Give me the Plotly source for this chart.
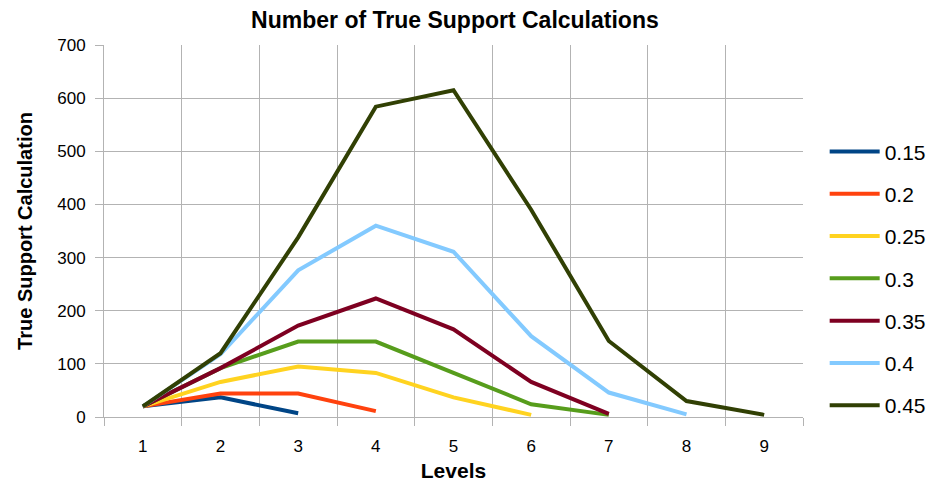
import plotly.graph_objects as go

# Levels on the x axis
levels = [1, 2, 3, 4, 5, 6, 7, 8, 9]

# Minimum-support thresholds (series names) and their counts per level
s015 = [20, 37, 7]
s020 = [20, 44, 44, 11]
s025 = [20, 66, 95, 83, 37, 4]
s030 = [20, 92, 142, 142, 83, 24, 4]
s035 = [20, 92, 172, 223, 165, 66, 6]
s040 = [20, 118, 276, 360, 311, 152, 46, 5]
s045 = [20, 120, 338, 584, 615, 390, 143, 30, 4]

series = [
    ("0.15", s015, "#004586"),
    ("0.2", s020, "#ff420e"),
    ("0.25", s025, "#ffd320"),
    ("0.3", s030, "#579d1c"),
    ("0.35", s035, "#7e0021"),
    ("0.4", s040, "#83caff"),
    ("0.45", s045, "#314004"),
]

y_ticks = [0, 100, 200, 300, 400, 500, 600, 700]

fig = go.Figure()
for name, vals, color in series:
    fig.add_trace(go.Scatter(
        x=levels[:len(vals)], y=vals, name=name, mode="lines",
        legendgroup=name,
        line=dict(color=color, width=4),
    ))

grid = "#b3b3b3"
font = "Liberation Sans, Arial, sans-serif"

fig.update_layout(
    width=938, height=482,
    margin=dict(l=104, r=135, t=45, b=65, autoexpand=False),
    paper_bgcolor="white", plot_bgcolor="white",
    font=dict(family=font, color="black", size=17),
    title=dict(text="<b>Number of True Support Calculations</b>",
               x=0.485, xanchor="center", y=0.958, yanchor="middle",
               font=dict(size=23)),
    showlegend=True,
    legend=dict(x=1.031, y=0.768, xanchor="left", yanchor="top",
                font=dict(size=21), tracegroupgap=12,
                itemwidth=50, bgcolor="rgba(0,0,0,0)"),
    xaxis=dict(
        range=[0.5, 9.5], tickmode="array", tickvals=levels,
        ticktext=[str(v) for v in levels], automargin=False,
        showgrid=False, ticks="", showline=True, linecolor=grid,
        zeroline=False, ticklabelstandoff=14,
        tickfont=dict(size=17),
        minor=dict(tickvals=[v - 0.5 for v in levels] + [9.5],
                   showgrid=True, gridcolor=grid, gridwidth=1,
                   ticks="outside", ticklen=8, tickcolor=grid),
        title=dict(text="<b>Levels</b>", font=dict(size=21), standoff=8),
    ),
    yaxis=dict(
        range=[0, 700], tickvals=y_ticks, automargin=False,
        showgrid=True, gridcolor=grid, gridwidth=1,
        ticks="outside", ticklen=8, tickcolor=grid,
        showline=True, linecolor=grid, zeroline=False,
        tickfont=dict(size=17), ticklabelstandoff=6,
        title=dict(text="<b>True Support Calculation</b>", font=dict(size=20),
                   standoff=19),
    ),
)

fig.write_html("out.html")
